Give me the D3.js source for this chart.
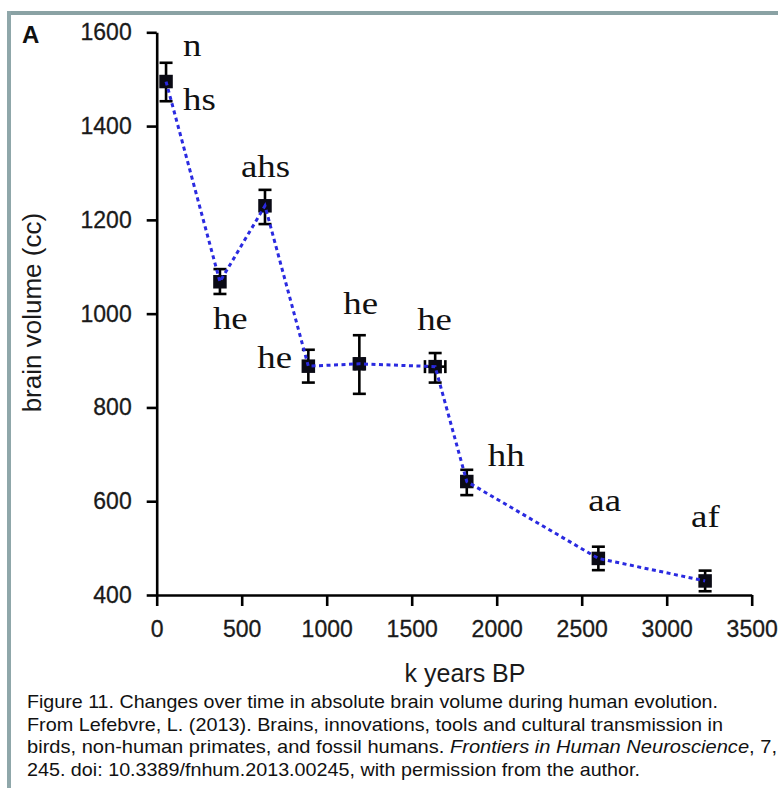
<!DOCTYPE html>
<html>
<head>
<meta charset="utf-8">
<script src="https://cdn.jsdelivr.net/npm/d3@7"></script>
<style>
  html, body { margin: 0; padding: 0; background: #fff; }
  svg { display: block; }
</style>
</head>
<body>
<div id="chart"></div>
<script>
// ---- data ----
const groups = ["n/hs", "he", "ahs", "he", "he", "he", "hh", "aa", "af"];
const ageK = [55, 372, 637, 892, 1192, 1638, 1824, 2598, 3226];
const volume = [1495, 1068, 1230, 888, 893, 887, 642, 478, 430];
const errUp = [40, 27, 34, 35, 61, 29, 25, 25, 22];
const errDown = [42, 26, 39, 35, 64, 34, 29, 25, 22];
const ageErr = [0, 0, 0, 0, 25, 60, 0, 0, 0];
const labels = ["n", "hs", "ahs", "he", "he", "he", "he", "hh", "aa", "af"];
const labelPoint = [0, 0, 2, 1, 3, 4, 5, 6, 7, 8];
const xTicks = [0, 500, 1000, 1500, 2000, 2500, 3000, 3500];
const yTicks = [400, 600, 800, 1000, 1200, 1400, 1600];
const captionLines = [
  [["Figure 11. Changes over time in absolute brain volume during human evolution.", false]],
  [["From Lefebvre, L. (2013). Brains, innovations, tools and cultural transmission in", false]],
  [["birds, non-human primates, and fossil humans. ", false], ["Frontiers in Human Neuroscience", true], [", 7,", false]],
  [["245. doi: 10.3389/fnhum.2013.00245, with permission from the author.", false]]
];

// ---- layout (pixel offsets, styles) ----
const labelOffsets = [[17, -26], [17, 28], [-24, -29], [-7, 47], [-51, 2], [-16, -50], [-18, -37], [21, -16], [-10, -47], [-14, -54]];
const captionWidths = [691, 696, 750, 613];

const W = 778, H = 788;
const svg = d3.select("#chart").append("svg").attr("width", W).attr("height", H);
svg.append("rect").attr("width", W).attr("height", H).attr("fill", "#fff");

// frame
svg.append("line").attr("x1", 7).attr("x2", W).attr("y1", 13).attr("y2", 13)
  .attr("stroke", "#8aa2a4").attr("stroke-width", 4);
svg.append("line").attr("x1", 9).attr("x2", 9).attr("y1", 11).attr("y2", H)
  .attr("stroke", "#8fa7aa").attr("stroke-width", 4);

const x = d3.scaleLinear().domain([0, 3500]).range([156.7, 751.7]);
const y = d3.scaleLinear().domain([400, 1600]).range([595, 32.3]);

const sans = "'Liberation Sans', Arial, sans-serif";
const serif = "'Liberation Serif', 'Times New Roman', serif";

// axes
const yAxis = svg.append("g").attr("transform", `translate(${x(0)},0)`)
  .call(d3.axisLeft(y).tickValues(yTicks).tickFormat(d3.format("d")).tickSize(10).tickSizeOuter(0).tickPadding(15));
const xAxis = svg.append("g").attr("transform", `translate(0,${y(400)})`)
  .call(d3.axisBottom(x).tickValues(xTicks).tickFormat(d3.format("d")).tickSize(11).tickSizeOuter(0).tickPadding(15));
[yAxis, xAxis].forEach(g => {
  g.select(".domain").attr("stroke", "#000").attr("stroke-width", 2.6);
  g.selectAll(".tick line").attr("stroke", "#000").attr("stroke-width", 2.6);
  g.selectAll(".tick text").attr("fill", "#1a1a1a").style("font-family", sans).style("font-size", "23px")
    .attr("stroke", "#1a1a1a").attr("stroke-width", 0.3);
});

// panel letter
svg.append("text").attr("x", 22).attr("y", 43).text("A")
  .style("font-family", sans).style("font-weight", "bold").style("font-size", "24px").attr("fill", "#111");

// axis titles
svg.append("text").attr("transform", `translate(41,${y(1000) - 1}) rotate(-90)`)
  .attr("text-anchor", "middle").text("brain volume (cc)")
  .style("font-family", sans).style("font-size", "26px").attr("fill", "#1a1a1a");
svg.append("text").attr("x", 465).attr("y", 682).attr("text-anchor", "middle").text("k years BP")
  .style("font-family", sans).style("font-size", "25px").attr("fill", "#1a1a1a");

// points
const pts = ageK.map((a, i) => ({ a, v: volume[i], up: errUp[i], dn: errDown[i], ae: ageErr[i] }));
const capW = 6.5, sq = 13.5;
const pg = svg.append("g");
pts.forEach(p => {
  const cx = x(p.a), cy = y(p.v);
  pg.append("line").attr("x1", cx).attr("x2", cx).attr("y1", y(p.v + p.up)).attr("y2", y(p.v - p.dn))
    .attr("stroke", "#000").attr("stroke-width", 2.6);
  pg.append("line").attr("x1", cx - capW).attr("x2", cx + capW).attr("y1", y(p.v + p.up)).attr("y2", y(p.v + p.up))
    .attr("stroke", "#000").attr("stroke-width", 2.6);
  pg.append("line").attr("x1", cx - capW).attr("x2", cx + capW).attr("y1", y(p.v - p.dn)).attr("y2", y(p.v - p.dn))
    .attr("stroke", "#000").attr("stroke-width", 2.6);
  if (p.ae > 0) {
    pg.append("line").attr("x1", x(p.a - p.ae)).attr("x2", x(p.a + p.ae)).attr("y1", cy).attr("y2", cy)
      .attr("stroke", "#000").attr("stroke-width", 2.6);
    [p.a - p.ae, p.a + p.ae].forEach(e => pg.append("line").attr("x1", x(e)).attr("x2", x(e))
      .attr("y1", cy - capW).attr("y2", cy + capW).attr("stroke", "#000").attr("stroke-width", 2.6));
  }
  pg.append("rect").attr("x", cx - sq / 2).attr("y", cy - sq / 2).attr("width", sq).attr("height", sq)
    .attr("fill", "#0a0a14");
});

// dashed connecting line
const line = d3.line().x(d => x(d.a)).y(d => y(d.v));
svg.append("path").datum(pts).attr("d", line).attr("fill", "none")
  .attr("stroke", "#2a2ae0").attr("stroke-width", 3).attr("stroke-dasharray", "4,3.5");

// group labels
labels.forEach((t, i) => {
  const p = pts[labelPoint[i]];
  const lx = x(p.a) + labelOffsets[i][0], ly = y(p.v) + labelOffsets[i][1];
  svg.append("text").attr("transform", `translate(${lx},${ly}) scale(1.15,1)`)
    .text(t).style("font-family", serif).style("font-size", "32px").attr("fill", "#111");
});

// caption
const baselines = [708, 731, 753, 776];
captionLines.forEach((parts, i) => {
  const t = svg.append("text").attr("x", 27).attr("y", baselines[i])
    .attr("textLength", captionWidths[i]).attr("lengthAdjust", "spacingAndGlyphs")
    .style("font-family", sans).style("font-size", "19px").attr("fill", "#111")
    .attr("xml:space", "preserve");
  parts.forEach(([s, it]) => t.append("tspan").text(s).style("font-style", it ? "italic" : "normal"));
});
</script>
</body>
</html>
